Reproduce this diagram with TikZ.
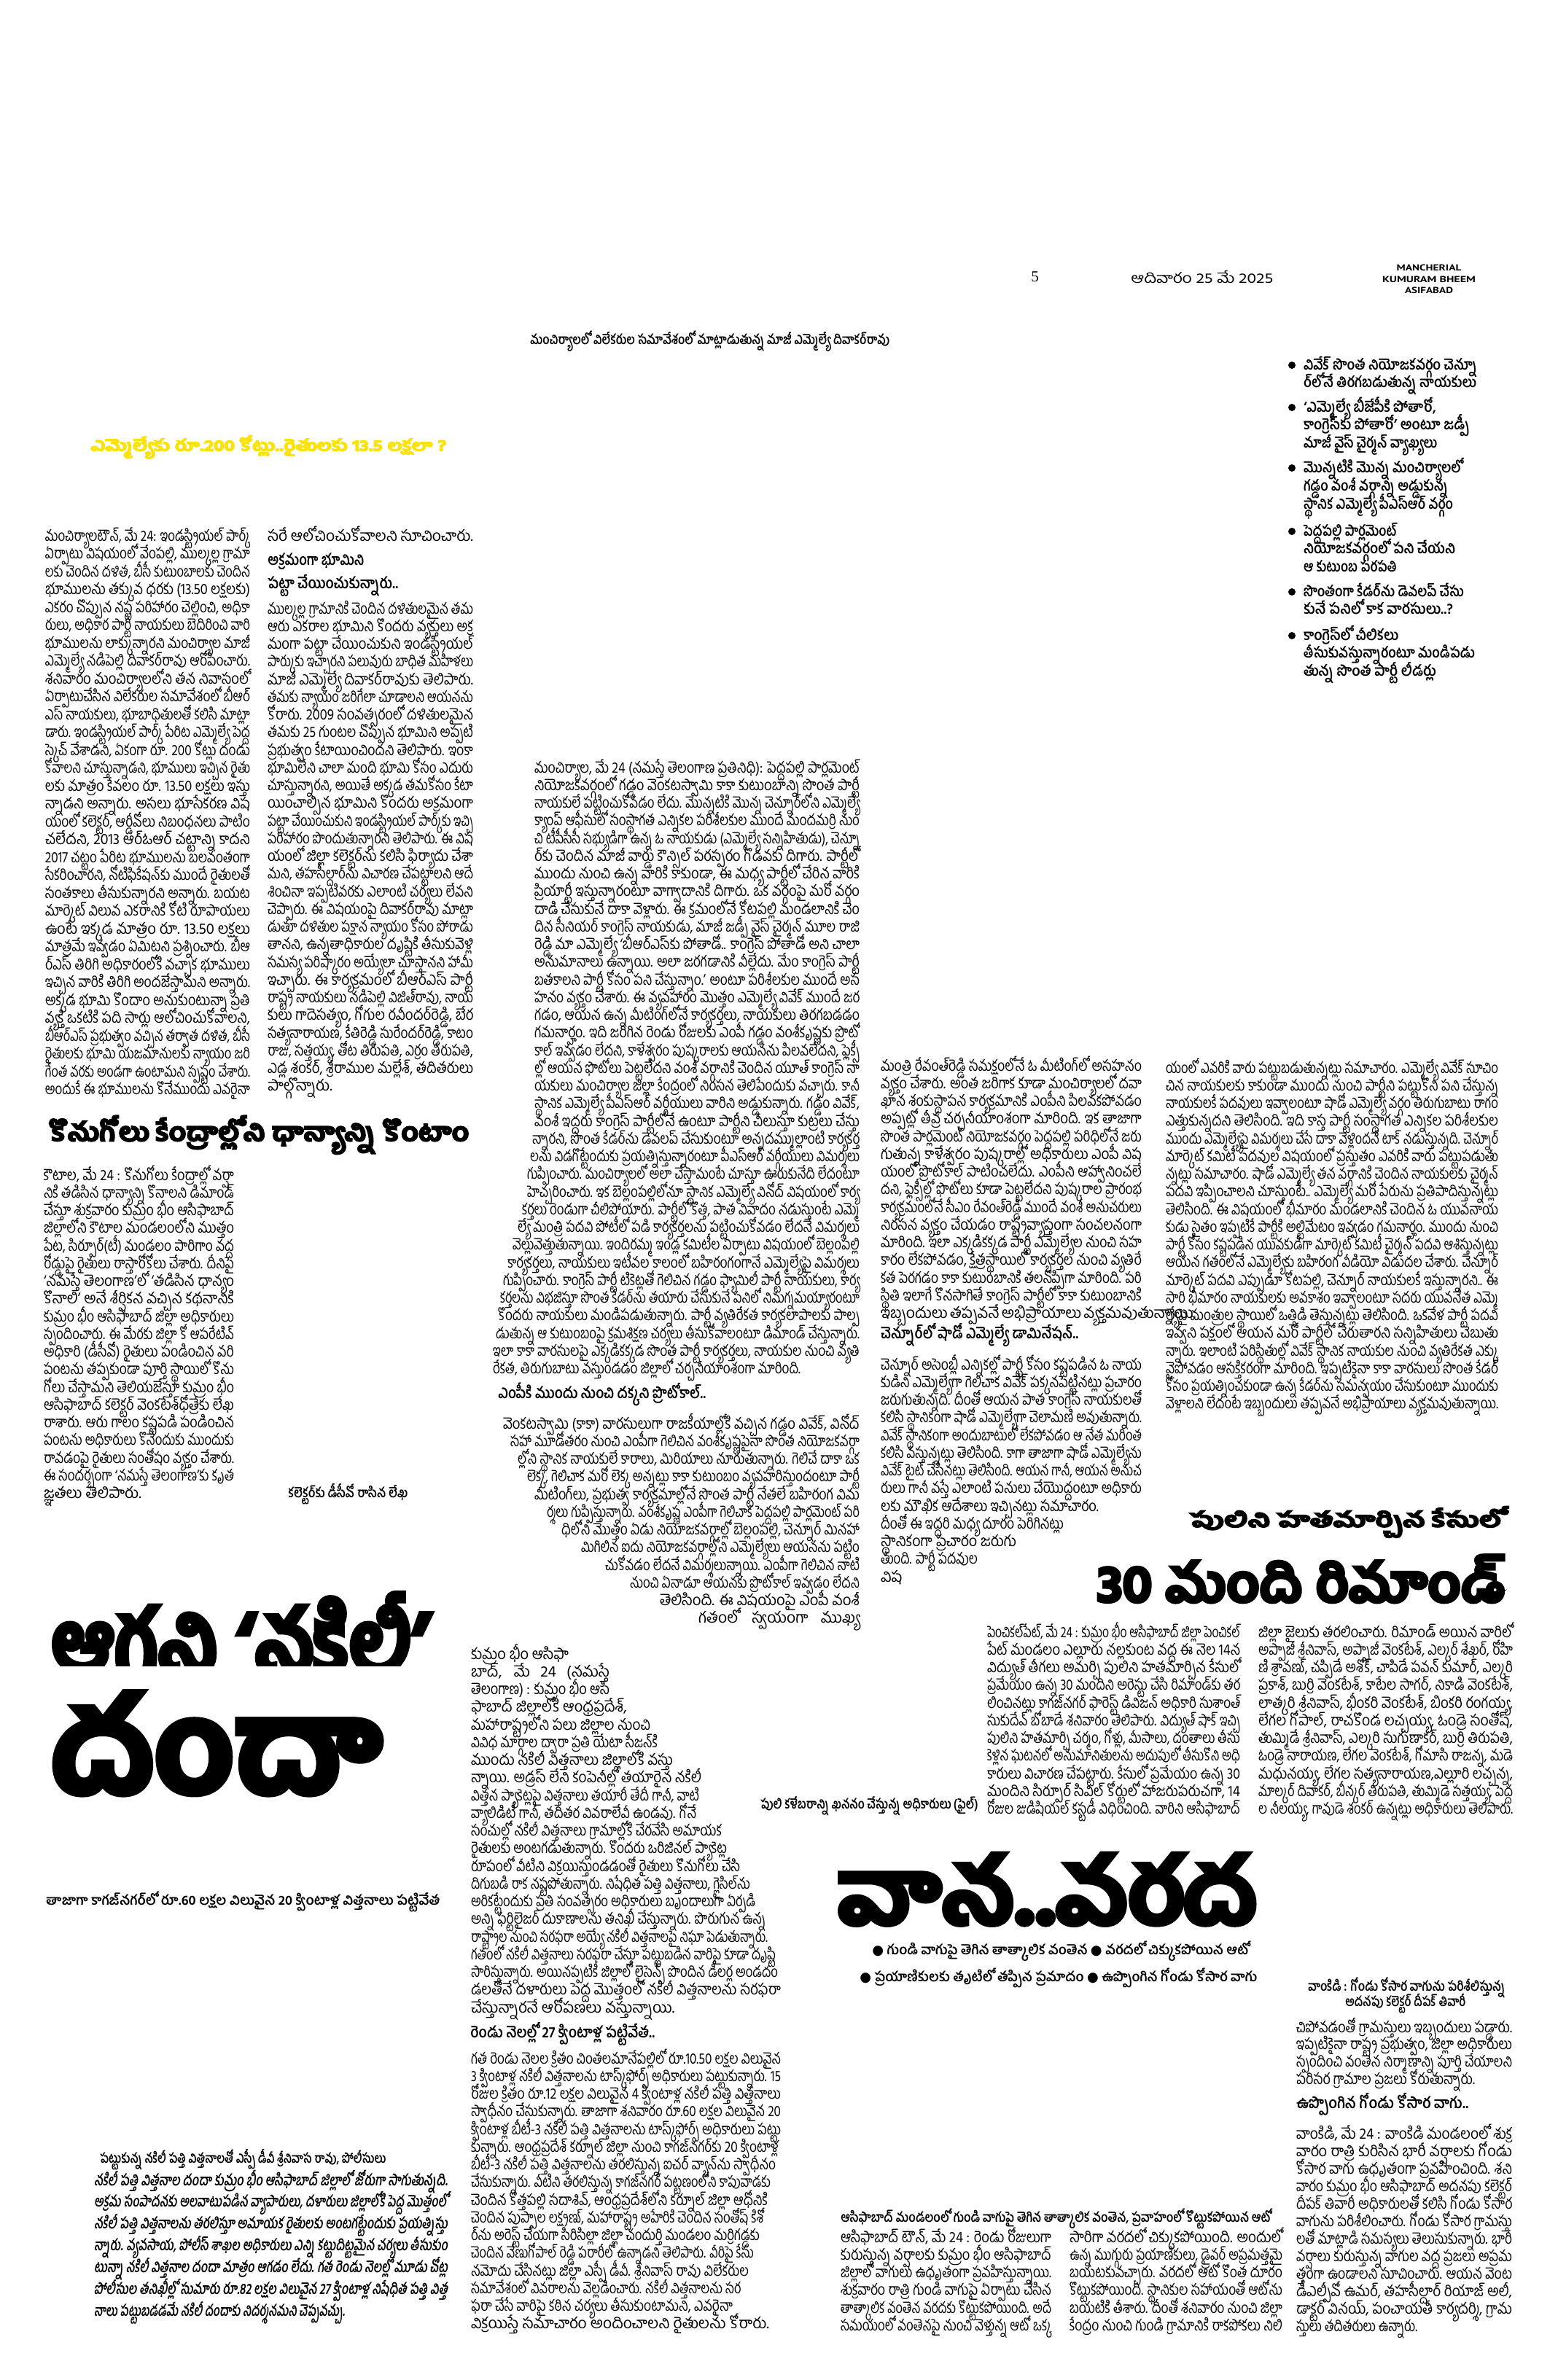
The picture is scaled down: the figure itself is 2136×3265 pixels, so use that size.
\documentclass[tikz,border=0pt]{standalone}
\usepackage{fontspec}
\usepackage{graphicx}
\setmainfont{Hind Guntur}[Script=Telugu]
\newfontfamily\heavyfont{Hind Guntur}[Script=Telugu,FakeBold=6]
\newfontfamily\slantfont{Hind Guntur}[Script=Telugu,FakeSlant=0.2]
\newfontfamily\latinfont{PT Sans}
\newfontfamily\digitfont{Liberation Serif}
\newfontfamily\symfont{DejaVu Sans}
\definecolor{headyellow}{RGB}{250,226,10}
\newsavebox\lnbox
\newlength\fitwd
\newcommand\fitline[2]{\setlength\fitwd{#1}\sbox\lnbox{#2}%
  \ifdim\wd\lnbox>\fitwd\resizebox{\fitwd}{\height}{\usebox\lnbox}%
  \else\hbox to\fitwd{\unhcopy\lnbox}\fi}
\newcommand\seg[3]{\hbox to\linewidth{\hskip#1\relax\fitline{#2}{#3}\hfil}}
\newcommand\jl[1]{\seg{0pt}{\linewidth}{#1}}
\newcommand\ji[2]{\seg{#1}{\dimexpr\linewidth-#1\relax}{#2}}
\newcommand\jr[1]{\hbox to\linewidth{#1\hfil}}
\newcommand\tw[2]{\resizebox{#1}{\height}{#2}}
\newcommand\fw[2]{\resizebox{#1}{!}{#2}}
\newcommand\bx[3]{\resizebox*{#1}{#2}{#3}}
\newenvironment{txtcol}[3]{\begin{minipage}[t]{#1}\fontsize{#2}{#3}\selectfont\lineskiplimit=-100pt\relax}{\end{minipage}}
\begin{document}
\begin{tikzpicture}[x=0.2mm,y=-0.2mm,
    colnode/.style={anchor=base west,inner sep=0pt,outer sep=0pt},
    capnode/.style={anchor=west,inner sep=0pt,font=\bfseries\fontsize{10.5pt}{12pt}\selectfont},
    subnode/.style={anchor=west,inner sep=0pt,font=\bfseries\fontsize{12pt}{14pt}\selectfont},
    headnode/.style={anchor=north west,inner sep=0pt,font=\heavyfont\bfseries\fontsize{30pt}{36pt}\selectfont},
    dotnode/.style={circle,fill=black,inner sep=0pt,minimum size=2mm}
    ]
\fill[white] (0,0) rectangle (2136,3265);
\useasboundingbox (0,0) rectangle (2136,3265);
\node[anchor=west,inner sep=0pt,font=\digitfont\fontsize{12pt}{14pt}\selectfont] (page) at (1414,380) {5};
\node[anchor=west,inner sep=0pt,font=\fontsize{11pt}{13pt}\selectfont] (date) at (1551,380) {\tw{39mm}{ఆదివారం 25 మే 2025}};
\node[inner sep=0pt,font=\latinfont\bfseries\fontsize{6.8pt}{8pt}\selectfont] (distA) at (1960,367) {\tw{17.8mm}{MANCHERIAL}};
\node[inner sep=0pt,font=\latinfont\bfseries\fontsize{6.8pt}{8pt}\selectfont] (distB) at (1960,383) {\tw{25.6mm}{KUMURAM BHEEM}};
\node[inner sep=0pt,font=\latinfont\bfseries\fontsize{6.8pt}{8pt}\selectfont] (distC) at (1960,398) {\tw{13.2mm}{ASIFABAD}};
\node[capnode] (capDiwakar) at (727,468) {\tw{98.6mm}{మంచిర్యాలలో విలేకరుల సమావేశంలో మాట్లాడుతున్న మాజీ ఎమ్మెల్యే దివాకర్‌రావు}};
\node[dotnode] (dotA) at (1772,501) {};
\node[dotnode] (dotB) at (1772,559) {};
\node[dotnode] (dotC) at (1772,642) {};
\node[dotnode] (dotD) at (1772,729) {};
\node[dotnode] (dotE) at (1772,812) {};
\node[dotnode] (dotF) at (1772,872) {};
\node[colnode,font=\bfseries] (bulA) at (1788,507) {\begin{txtcol}{52mm}{11.5pt}{14.2pt}
\seg{0pt}{47.6mm}{వివేక్ సొంత నియోజకవర్గం చెన్నూ}
\seg{0pt}{47.4mm}{ర్‌లోనే తిరగబడుతున్న నాయకులు}
\end{txtcol}};
\node[colnode,font=\bfseries] (bulB) at (1788,565) {\begin{txtcol}{52mm}{11.5pt}{14.2pt}
\seg{0pt}{36.4mm}{‘ఎమ్మెల్యే బీజేపీకి పోతారో,}
\seg{0pt}{45.4mm}{కాంగ్రెస్‌కు పోతారో’ అంటూ జడ్పీ}
\seg{0pt}{36.6mm}{మాజీ వైస్ చైర్మన్ వ్యాఖ్యలు}
\end{txtcol}};
\node[colnode,font=\bfseries] (bulC) at (1788,648) {\begin{txtcol}{52mm}{11.5pt}{14.5pt}
\seg{0pt}{43.6mm}{మొన్నటికి మొన్న మంచిర్యాలలో}
\seg{0pt}{39.6mm}{గడ్డం వంశీ వర్గాన్ని అడ్డుకున్న}
\seg{0pt}{41mm}{స్థానిక ఎమ్మెల్యే పీఎస్ఆర్ వర్గం}
\end{txtcol}};
\node[colnode,font=\bfseries] (bulD) at (1788,735) {\begin{txtcol}{52mm}{11.5pt}{14.2pt}
\seg{0pt}{25.6mm}{పెద్దపల్లి పార్లమెంట్}
\seg{0pt}{41.6mm}{నియోజకవర్గంలో పని చేయని}
\seg{0pt}{25.6mm}{ఆ కుటుంబ పరపతి}
\end{txtcol}};
\node[colnode,font=\bfseries] (bulE) at (1788,818) {\begin{txtcol}{52mm}{11.5pt}{14.2pt}
\seg{0pt}{44mm}{సొంతంగా కేడర్‌ను డెవలప్ చేసు}
\seg{0pt}{41mm}{కునే పనిలో కాక వారసులు..?}
\end{txtcol}};
\node[colnode,font=\bfseries] (bulF) at (1788,878) {\begin{txtcol}{52mm}{11.5pt}{14.2pt}
\seg{0pt}{26mm}{కాంగ్రెస్‌లో చీలికలు}
\seg{0pt}{47mm}{తీసుకువస్తున్నారంటూ మండిపడు}
\seg{0pt}{36.4mm}{తున్న సొంత పార్టీ లీడర్లు}
\end{txtcol}};
\node[headnode,text=headyellow] (yellowHead) at (124,597) {\bx{97.6mm}{6.4mm}{ఎమ్మెల్యేకు రూ.200 కోట్లు..రైతులకు 13.5 లక్షలా ?}};
\node[colnode] (colDivA) at (62,742) {\begin{txtcol}{56.2mm}{12pt}{13.95pt}
\jl{మంచిర్యాలటౌన్, మే 24: ఇండస్ట్రియల్ పార్క్}
\jl{ఏర్పాటు విషయంలో వేంపల్లి, ముల్కల్ల గ్రామా}
\jl{లకు చెందిన దళిత, బీసీ కుటుంబాలకు చెందిన}
\jl{భూములను తక్కువ ధరకు (13.50 లక్షలకు)}
\jl{ఎకరం చొప్పున నష్ట పరిహారం చెల్లించి, అధికా}
\jl{రులు, అధికార పార్టీ నాయకులు బెదిరించి వారి}
\jl{భూములను లాక్కున్నారని మంచిర్యాల మాజీ}
\jl{ఎమ్మెల్యే నడిపెల్లి దివాకర్‌రావు ఆరోపించారు.}
\jl{శనివారం మంచిర్యాలలోని తన నివాసంలో}
\jl{ఏర్పాటుచేసిన విలేకరుల సమావేశంలో బీఆర్}
\jl{ఎస్ నాయకులు, భూబాధితులతో కలిసి మాట్లా}
\jl{డారు. ఇండస్ట్రియల్ పార్క్ పేరిట ఎమ్మెల్యే పెద్ద}
\jl{స్కెచ్ వేశాడని, ఏకంగా రూ. 200 కోట్లు దండు}
\jl{కోవాలని చూస్తున్నాడని, భూములు ఇచ్చిన రైతు}
\jl{లకు మాత్రం కేవలం రూ. 13.50 లక్షలు ఇస్తు}
\jl{న్నాడని అన్నారు. అసలు భూసేకరణ విష}
\jl{యంలో కలెక్టర్, ఆర్డీవోలు నిబంధనలు పాటిం}
\jl{చలేదని, 2013 ఆర్ఓఆర్ చట్టాన్ని కాదని}
\jl{2017 చట్టం పేరిట భూములను బలవంతంగా}
\jl{సేకరించారని, నోటిఫికేషన్‌కు ముందే రైతులతో}
\jl{సంతకాలు తీసుకున్నారని అన్నారు. బయట}
\jl{మార్కెట్ విలువ ఎకరానికి కోటి రూపాయలు}
\jl{ఉంటే ఇక్కడ మాత్రం రూ. 13.50 లక్షలు}
\jl{మాత్రమే ఇవ్వడం ఏమిటని ప్రశ్నించారు. బీఆ}
\jl{ర్ఎస్ తిరిగి అధికారంలోకి వచ్చాక భూములు}
\jl{ఇచ్చిన వారికి తిరిగి అందజేస్తామని అన్నారు.}
\jl{అక్కడ భూమి కొందాం అనుకుంటున్నా ప్రతి}
\jl{వ్యక్తి ఒకటికి పది సార్లు ఆలోచించుకోవాలని,}
\jl{బీఆర్ఎస్ ప్రభుత్వం వచ్చిన తర్వాత దళిత, బీసీ}
\jl{రైతులకు భూమి యజమానులకు న్యాయం జరి}
\jl{గేంత వరకు అండగా ఉంటామని స్పష్టం చేశారు.}
\jl{అందుకే ఈ భూములను కొనేముందు ఎవరైనా}
\end{txtcol}};
\node[colnode] (colDivB) at (367,742) {\begin{txtcol}{56.4mm}{12pt}{13.8pt}
\jr{సరే ఆలోచించుకోవాలని సూచించారు.}
\end{txtcol}};
\node[subnode] (subLandA) at (367,770) {\tw{26.4mm}{అక్రమంగా భూమిని}};
\node[subnode] (subLandB) at (367,803) {\tw{35.8mm}{పట్టా చేయించుకున్నారు..}};
\node[colnode] (colDivC) at (367,842) {\begin{txtcol}{56.4mm}{12pt}{13.8pt}
\jl{ముల్కల్ల గ్రామానికి చెందిన దళితులమైన తమ}
\jl{ఆరు ఎకరాల భూమిని కొందరు వ్యక్తులు అక్ర}
\jl{మంగా పట్టా చేయించుకుని ఇండస్ట్రియల్}
\jl{పార్కుకు ఇచ్చారని పలువురు బాధిత మహిళలు}
\jl{మాజీ ఎమ్మెల్యే దివాకర్‌రావుకు తెలిపారు.}
\jl{తమకు న్యాయం జరిగేలా చూడాలని ఆయనను}
\jl{కోరారు. 2009 సంవత్సరంలో దళితులమైన}
\jl{తమకు 25 గుంటల చొప్పున భూమిని అప్పటి}
\jl{ప్రభుత్వం కేటాయించిందని తెలిపారు. ఇంకా}
\jl{భూమిలేని చాలా మంది భూమి కోసం ఎదురు}
\jl{చూస్తున్నారని, అయితే అక్కడ తమకోసం కేటా}
\jl{యించాల్సిన భూమిని కొందరు అక్రమంగా}
\jl{పట్టా చేయించుకుని ఇండస్ట్రియల్ పార్క్‌కు ఇచ్చి}
\jl{పరిహారం పొందుతున్నారని తెలిపారు. ఈ విష}
\jl{యంలో జిల్లా కలెక్టర్‌ను కలిసి ఫిర్యాదు చేశా}
\jl{మని, తహసీల్దార్‌ను విచారణ చేపట్టాలని ఆదే}
\jl{శించినా ఇప్పటివరకు ఎలాంటి చర్యలు లేవని}
\jl{చెప్పారు. ఈ విషయంపై దివాకర్‌రావు మాట్లా}
\jl{డుతూ దళితుల పక్షాన న్యాయం కోసం పోరాడు}
\jl{తానని, ఉన్నతాధికారుల దృష్టికి తీసుకువెళ్లి}
\jl{సమస్య పరిష్కారం అయ్యేలా చూస్తానని హామీ}
\jl{ఇచ్చారు. ఈ కార్యక్రమంలో బీఆర్ఎస్ పార్టీ}
\jl{రాష్ట్ర నాయకులు నడిపెల్లి విజిత్‌రావు, నాయ}
\jl{కులు గాదెసత్యం, గోగుల రవీందర్‌రెడ్డి, బేర}
\jl{సత్యనారాయణ, కేతిరెడ్డి సురేందర్‌రెడ్డి, కాటం}
\jl{రాజు, సత్తయ్య, తోట తిరుపతి, ఎర్రం తిరుపతి,}
\jl{ఎడ్ల శంకర్, శ్రీరాముల మల్లేశ్, తదితరులు}
\jr{పాల్గొన్నారు.}
\end{txtcol}};
\node[colnode] (colPedA) at (676,1060) {\begin{txtcol}{100.6mm}{12pt}{13.8pt}
\ji{11.4mm}{మంచిర్యాల, మే 24 (నమస్తే తెలంగాణ ప్రతినిధి): పెద్దపల్లి పార్లమెంట్}
\ji{11.4mm}{నియోజకవర్గంలో గడ్డం వెంకటస్వామి కాకా కుటుంబాన్ని సొంత పార్టీ}
\ji{11.4mm}{నాయకులే పట్టించుకోవడం లేదు. మొన్నటికి మొన్న చెన్నూర్‌లోని ఎమ్మెల్యే}
\ji{11.4mm}{క్యాంప్ ఆఫీసులో సంస్థాగత ఎన్నికల పరిశీలకుల ముందే మందమర్రి నుం}
\ji{11.4mm}{చి టీపీసీసీ సభ్యుడిగా ఉన్న ఓ నాయకుడు (ఎమ్మెల్యే సన్నిహితుడు), చెన్నూ}
\ji{11.4mm}{ర్‌కు చెందిన మాజీ వార్డు కౌన్సిల్ పరస్పరం గొడవకు దిగారు. పార్టీలో}
\ji{11.4mm}{ముందు నుంచి ఉన్న వారికి కాకుండా, ఈ మధ్య పార్టీలో చేరిన వారికి}
\ji{11.4mm}{ప్రియార్టీ ఇస్తున్నారంటూ వాగ్వాదానికి దిగారు. ఒక వర్గంపై మరో వర్గం}
\ji{11.4mm}{దాడి చేసుకునే దాకా వెళ్లారు. ఈ క్రమంలోనే కోటపల్లి మండలానికి చెం}
\ji{11.4mm}{దిన సీనియర్ కాంగ్రెస్ నాయకుడు, మాజీ జడ్పీ వైస్ చైర్మన్ మూల రాజి}
\ji{11.4mm}{రెడ్డి మా ఎమ్మెల్యే ‘బీఆర్ఎస్‌కు పోతాడో.. కాంగ్రెస్ పోతాడో అని చాలా}
\ji{11.4mm}{అనుమానాలు ఉన్నాయి. అలా జరగడానికి వీల్లేదు. మేం కాంగ్రెస్ పార్టీ}
\ji{11.4mm}{బతకాలని పార్టీ కోసం పని చేస్తున్నాం.’ అంటూ పరిశీలకుల ముందే అస}
\ji{11.4mm}{హనం వ్యక్తం చేశారు. ఈ వ్యవహారం మొత్తం ఎమ్మెల్యే వివేక్ ముందే జర}
\ji{11.4mm}{గడం, ఆయన ఉన్న మీటింగ్‌లోనే కార్యకర్తలు, నాయకులు తిరగబడడం}
\ji{11.4mm}{గమనార్హం. ఇది జరిగిన రెండు రోజులకు ఎంపీ గడ్డం వంశీకృష్ణకు ప్రొటో}
\ji{11.4mm}{కాల్ ఇవ్వడం లేదని, కాళేశ్వరం పుష్కరాలకు ఆయనను పిలవలేదని, ఫ్లెక్సీ}
\ji{11.4mm}{ల్లో ఆయన ఫొటోలు పెట్టలేదని వంశీ వర్గానికి చెందిన యూత్ కాంగ్రెస్ నా}
\ji{11.4mm}{యకులు మంచిర్యాల జిల్లా కేంద్రంలో నిరసన తెలిపేందుకు వచ్చారు. కానీ}
\ji{11.4mm}{స్థానిక ఎమ్మెల్యే పీఎస్ఆర్ వర్గీయులు వారిని అడ్డుకున్నారు. గడ్డం వివేక్,}
\ji{11.4mm}{వంశీ ఇద్దరు కాంగ్రెస్ పార్టీలోనే ఉంటూ పార్టీని చీలుస్తూ కుట్రలు చేస్తు}
\ji{10.8mm}{న్నారని, సొంత కేడర్‌ను డెవలప్ చేసుకుంటూ అన్నదమ్ముల్లాంటి కార్యకర్త}
\ji{10.2mm}{లను విడగొట్టేందుకు ప్రయత్నిస్తున్నారంటూ పీఎస్ఆర్ వర్గీయులు విమర్శలు}
\ji{9.4mm}{గుప్పించారు. మంచిర్యాలలో అలా చేస్తామంటే చూస్తూ ఊరుకునేది లేదంటూ}
\ji{9.4mm}{హెచ్చరించారు. ఇక బెల్లంపల్లిలోనూ స్థానిక ఎమ్మెల్యే వినోద్ విషయంలో కార్య}
\ji{8mm}{కర్తలు రెండుగా చీలిపోయారు. పార్టీలో కొత్త, పాత వివాదం నడుస్తుంటే ఎమ్మె}
\ji{6.8mm}{ల్యే మంత్రి పదవి పోటీలో పడి కార్యకర్తలను పట్టించుకోవడం లేదనే విమర్శలు}
\ji{5.4mm}{వెల్లువెత్తుతున్నాయి. ఇందిరమ్మ ఇండ్ల కమిటీల ఏర్పాటు విషయంలో బెల్లంపల్లి}
\ji{4mm}{కార్యకర్తలు, నాయకులు ఇటీవల కాలంలో బహిరంగంగానే ఎమ్మెల్యేపై విమర్శలు}
\ji{2.8mm}{గుప్పించారు. కాంగ్రెస్ పార్టీ టికెట్లతో గెలిచిన గడ్డం ఫ్యామిలీ పార్టీ నాయకులు, కార్య}
\ji{2mm}{కర్తలను విభజిస్తూ సొంత కేడర్‌ను తయారు చేసుకునే పనిలో నిమగ్నమయ్యారంటూ}
\ji{1.4mm}{కొందరు నాయకులు మండిపడుతున్నారు. పార్టీ వ్యతిరేకత కార్యకలాపాలకు పాల్ప}
\ji{0.8mm}{డుతున్న ఆ కుటుంబంపై క్రమశిక్షణ చర్యలు తీసుకోవాలంటూ డిమాండ్ చేస్తున్నారు.}
\jl{ఇలా కాకా వారసులపై ఎక్కడికక్కడ సొంత పార్టీ కార్యకర్తలు, నాయకుల నుంచి వ్యతి}
\seg{0pt}{84.4mm}{రేకత, తిరుగుబాటు వస్తుండడం జిల్లాలో చర్చనీయాంశంగా మారింది.}
\end{txtcol}};
\node[subnode] (subProtocol) at (683,1913) {\tw{57mm}{ఎంపీకి ముందు నుంచి దక్కని ప్రొటోకాల్..}};
\node[colnode] (colPedB) at (676,1960) {\begin{txtcol}{100.6mm}{12pt}{13.8pt}
\ji{2.8mm}{వెంకటస్వామి (కాకా) వారసులుగా రాజకీయాల్లోకి వచ్చిన గడ్డం వివేక్, వినోద్}
\ji{4.8mm}{సహా మూడోతరం నుంచి ఎంపీగా గెలిచిన వంశీకృష్ణపైనా సొంత నియోజకవర్గా}
\ji{6.8mm}{ల్లోని స్థానిక నాయకులే కారాలు, మిరియాలు నూరుతున్నారు. గెలిచే దాకా ఒక}
\ji{9.4mm}{లెక్క, గెలిచాక మరో లెక్క అన్నట్లు కాకా కుటుంబం వ్యవహరిస్తుందంటూ పార్టీ}
\ji{11.4mm}{మీటింగ్‌లు, ప్రభుత్వ కార్యక్రమాల్లోనే సొంత పార్టీ నేతలే బహిరంగ విమ}
\ji{14.8mm}{ర్శలు గుప్పిస్తున్నారు. వంశీకృష్ణ ఎంపీగా గెలిచాక పెద్దపల్లి పార్లమెంట్ పరి}
\ji{18.8mm}{ధిలోని మొత్తం ఏడు నియోజకవర్గాల్లో బెల్లంపల్లి, చెన్నూర్ మినహా}
\ji{24.2mm}{మిగిలిన ఐదు నియోజకవర్గాల్లోని ఎమ్మెల్యేలు ఆయనను పట్టిం}
\ji{30.8mm}{చుకోవడం లేదనే విమర్శలున్నాయి. ఎంపీగా గెలిచిన నాటి}
\ji{37.6mm}{నుంచి ఏనాడూ ఆయనకు ప్రొటోకాల్ ఇవ్వడం లేదని}
\ji{45.8mm}{తెలిసింది. ఈ విషయంపై ఎంపీ వంశీ}
\ji{56.4mm}{గతంలో స్వయంగా ముఖ్య}
\end{txtcol}};
\node[colnode] (colChenA) at (1208,1469) {\begin{txtcol}{71.6mm}{12pt}{13.8pt}
\jl{మంత్రి రేవంత్‌రెడ్డి సమక్షంలోనే ఓ మీటింగ్‌లో అసహనం}
\jl{వ్యక్తం చేశారు. అంత జరిగాక కూడా మంచిర్యాలలో దవా}
\jl{ఖాన శంకుస్థాపన కార్యక్రమానికి ఎంపీని పిలవకపోవడం}
\jl{అప్పట్లో తీవ్ర చర్చనీయాంశంగా మారింది. ఇక తాజాగా}
\jl{సొంత పార్లమెంట్ నియోజకవర్గం పెద్దపల్లి పరిధిలోనే జరు}
\jl{గుతున్న కాళేశ్వరం పుష్కరాల్లో అధికారులు ఎంపీ విష}
\jl{యంలో ప్రొటోకాల్ పాటించలేదు. ఎంపీని ఆహ్వానించలే}
\jl{దని, ఫ్లెక్సీల్లో ఫొటోలు కూడా పెట్టలేదని పుష్కరాల ప్రారంభ}
\jl{కార్యక్రమంలోనే సీఎం రేవంత్‌రెడ్డి ముందే వంశీ అనుచరులు}
\jl{నిరసన వ్యక్తం చేయడం రాష్ట్రవ్యాప్తంగా సంచలనంగా}
\jl{మారింది. ఇలా ఎక్కడికక్కడ పార్టీ ఎమ్మెల్యేల నుంచి సహ}
\jl{కారం లేకపోవడం, క్షేత్రస్థాయిలో కార్యకర్తల నుంచి వ్యతిరే}
\jl{కత పెరగడం కాకా కుటుంబానికి తలనొప్పిగా మారింది. పరి}
\jl{స్థితి ఇలాగే కొనసాగితే కాంగ్రెస్ పార్టీలో కాకా కుటుంబానికి}
\jr{ఇబ్బందులు తప్పవనే అభిప్రాయాలు వ్యక్తమవుతున్నాయి.}
\end{txtcol}};
\node[subnode] (subChennur) at (1208,1831) {\tw{54.2mm}{చెన్నూర్‌లో షాడో ఎమ్మెల్యే డామినేషన్..}};
\node[colnode] (colChenB) at (1208,1879) {\begin{txtcol}{71.6mm}{12pt}{13.8pt}
\jl{చెన్నూర్ అసెంబ్లీ ఎన్నికల్లో పార్టీ కోసం కష్టపడిన ఓ నాయ}
\jl{కుడిని ఎమ్మెల్యేగా గెలిచాక వివేక్ పక్కనపెట్టినట్లు ప్రచారం}
\jl{జరుగుతున్నది. దీంతో ఆయన పాత కాంగ్రెస్ నాయకులతో}
\jl{కలిసి స్థానికంగా షాడో ఎమ్మెల్యేగా చెలామణి అవుతున్నారు.}
\jl{వివేక్ స్థానికంగా అందుబాటులో లేకపోవడం ఆ నేత మరింత}
\jl{కలిసి వస్తున్నట్లు తెలిసింది. కాగా తాజాగా షాడో ఎమ్మెల్యేను}
\jl{వివేక్ టైట్ చేసినట్లు తెలిసింది. ఆయన గానీ, ఆయన అనుచ}
\jl{రులు గానీ వస్తే ఎలాంటి పనులు చేయొద్దంటూ అధికారు}
\seg{0pt}{59.8mm}{లకు మౌఖిక ఆదేశాలు ఇచ్చినట్లు సమాచారం.}
\seg{0pt}{50.2mm}{దీంతో ఈ ఇద్దరి మధ్య దూరం పెరిగినట్లు}
\seg{0pt}{37.2mm}{స్థానికంగా ప్రచారం జరుగు}
\seg{0pt}{26.6mm}{తుంది. పార్టీ పదవుల}
\jr{విష}
\end{txtcol}};
\node[colnode] (colChenC) at (1599,1472) {\begin{txtcol}{91.2mm}{12pt}{13.8pt}
\jl{యంలో ఎవరికి వారు పట్టుబడుతున్నట్లు సమాచారం. ఎమ్మెల్యే వివేక్ సూచిం}
\jl{చిన నాయకులకు కాకుండా ముందు నుంచి పార్టీని పట్టుకొని పని చేస్తున్న}
\jl{నాయకులకే పదవులు ఇవ్వాలంటూ షాడో ఎమ్మెల్యే వర్గం తిరుగుబాటు రాగం}
\jl{ఎత్తుకున్నదని తెలిసింది. ఇది కాస్త పార్టీ సంస్థాగత ఎన్నికల పరిశీలకుల}
\jl{ముందు ఎమ్మెల్యేపై విమర్శలు చేసే దాకా వెళ్లిందనే టాక్ నడుస్తున్నది. చెన్నూర్}
\jl{మార్కెట్ కమిటీ పదవుల విషయంలో ప్రస్తుతం ఎవరికి వారు పట్టుపడుతు}
\jl{న్నట్లు సమాచారం. షాడో ఎమ్మెల్యే తన వర్గానికి చెందిన నాయకులకు చైర్మన్}
\jl{పదవి ఇప్పించాలని చూస్తుంటే.. ఎమ్మెల్యే మరో పేరును ప్రతిపాదిస్తున్నట్లు}
\jl{తెలిసింది. ఈ విషయంలో భీమారం మండలానికి చెందిన ఓ యువనాయ}
\jl{కుడు సైతం ఇప్పటికే పార్టీకి అల్టిమేటం ఇవ్వడం గమనార్హం. ముందు నుంచి}
\jl{పార్టీ కోసం కష్టపడిన యువకుడిగా మార్కెట్ కమిటీ చైర్మన్ పదవి ఆశిస్తున్నట్లు}
\jl{ఆయన గతంలోనే ఎమ్మెల్యేకు బహిరంగ వీడియో విడుదల చేశారు. చెన్నూర్}
\jl{మార్కెట్ పదవి ఎప్పుడూ కోటపల్లి, చెన్నూర్ నాయకులకే ఇస్తున్నారని.. ఈ}
\jl{సారి భీమారం నాయకులకు అవకాశం ఇవ్వాలంటూ సదరు యువనేత ఎమ్మె}
\jl{ల్యేపై మంత్రుల స్థాయిలో ఒత్తిడి తెస్తున్నట్లు తెలిసింది. ఒకవేళ పార్టీ పదవి}
\jl{ఇవ్వని పక్షంలో ఆయన మరో పార్టీలో చేరుతారని సన్నిహితులు చెబుతు}
\jl{న్నారు. ఇలాంటి పరిస్థితుల్లో వివేక్ స్థానిక నాయకుల నుంచి వ్యతిరేకత ఎక్కు}
\jl{వైపోవడం ఆసక్తికరంగా మారింది. ఇప్పటికైనా కాకా వారసులు సొంత కేడర్}
\jl{కోసం ప్రయత్నించకుండా ఉన్న కేడర్‌ను సమన్వయం చేసుకుంటూ ముందుకు}
\jl{వెళ్లాలని లేదంటే ఇబ్బందులు తప్పవనే అభిప్రాయాలు వ్యక్తమవుతున్నాయి.}
\end{txtcol}};
\node[headnode] (kotalaHead) at (67,1530) {\bx{115.2mm}{10.6mm}{కొనుగోలు కేంద్రాల్లోని ధాన్యాన్ని కొంటాం}};
\node[colnode] (colKotala) at (60,1619) {\begin{txtcol}{52.2mm}{12pt}{13.8pt}
\jl{కౌటాల, మే 24 : కొనుగోలు కేంద్రాల్లో వర్షా}
\jl{నికి తడిసిన ధాన్యాన్ని కొనాలని డిమాండ్}
\jl{చేస్తూ శుక్రవారం కుమ్రం భీం ఆసిఫాబాద్}
\jl{జిల్లాలోని కౌటాల మండలంలోని ముత్తం}
\jl{పేట, సిర్పూర్(టీ) మండలం పారిగాం వద్ద}
\jl{రోడ్డుపై రైతులు రాస్తారోకోలు చేశారు. దీనిపై}
\jl{‘నమస్తే తెలంగాణ’లో ‘తడిసిన ధాన్యం}
\jl{కొనాలి’ అనే శీర్షికన వచ్చిన కథనానికి}
\jl{కుమ్రం భీం ఆసిఫాబాద్ జిల్లా అధికారులు}
\jl{స్పందించారు. ఈ మేరకు జిల్లా కో ఆపరేటివ్}
\jl{అధికారి (డీసీవో) రైతులు పండించిన వరి}
\jl{పంటను తప్పకుండా పూర్తి స్థాయిలో కొను}
\jl{గోలు చేస్తామని తెలియజేస్తూ కుమ్రం భీం}
\jl{ఆసిఫాబాద్ కలెక్టర్ వెంకటేశ్‌ధోత్రేకు లేఖ}
\jl{రాశారు. ఆరు గాలం కష్టపడి పండించిన}
\jl{పంటను అధికారులు కొనేందుకు ముందుకు}
\jl{రావడంపై రైతులు సంతోషం వ్యక్తం చేశారు.}
\jl{ఈ సందర్భంగా ‘నమస్తే తెలంగాణ’కు కృత}
\jr{జ్ఞతలు తెలిపారు.}
\end{txtcol}};
\node[capnode] (capLetter) at (395,2050) {\tw{32.8mm}{కలెక్టర్‌కు డీసీవో రాసిన లేఖ}};
\node[headnode] (puliHead) at (1632,2066) {\bx{86.4mm}{8.6mm}{పులిని హతమార్చిన కేసులో}};
\node[headnode] (remandHead) at (1504,2133) {\bx{112mm}{13mm}{30 మంది రిమాండ్}};
\begin{scope}
\clip (0,2150) rectangle (700,2285);
\node[headnode] (aganiHead) at (70,2185) {\bx{103.8mm}{22mm}{ఆగని ‘నకిలీ’}};
\end{scope}
\node[headnode] (dandaHead) at (70,2322) {\bx{90.6mm}{27.6mm}{దందా}};
\node[colnode] (colPuliA) at (1354,2246) {\begin{txtcol}{69.4mm}{12pt}{13.8pt}
\jl{పెంచికల్‌పేట్, మే 24 : కుమ్రం భీం ఆసిఫాబాద్ జిల్లా పెంచికల్}
\jl{పేట్ మండలం ఎల్లూరు నల్లకుంట వద్ద ఈ నెల 14న}
\jl{విద్యుత్ తీగలు అమర్చి పులిని హతమార్చిన కేసులో}
\jl{ప్రమేయం ఉన్న 30 మందిని అరెస్టు చేసి రిమాండ్‌కు తర}
\jl{లించినట్లు కాగజ్‌నగర్ ఫారెస్ట్ డివిజన్ అధికారి సుశాంత్}
\jl{సుకుదేవ్ బోబాడే శనివారం తెలిపారు. విద్యుత్ షాక్ ఇచ్చి}
\jl{పులిని హతమార్చి చర్మం, గోళ్లు, మీసాలు, దంతాలు తీసు}
\jl{కెళ్లిన ఘటనలో అనుమానితులను అదుపులో తీసుకొని అధి}
\jl{కారులు విచారణ చేపట్టారు. కేసులో ప్రమేయం ఉన్న 30}
\jl{మందిని సిర్పూర్ సివిల్ కోర్టులో హాజరుపరుచగా, 14}
\jl{రోజుల జుడిషియల్ కస్టడీ విధించింది. వారిని ఆసిఫాబాద్}
\end{txtcol}};
\node[colnode] (colPuliB) at (1726,2246) {\begin{txtcol}{69.8mm}{12pt}{13.8pt}
\jl{జిల్లా జైలుకు తరలించారు. రిమాండ్ అయిన వారిలో}
\jl{అప్పాజీ శ్రీనివాస్, అప్పాజీ వెంకటేశ్, ఎల్కర్ శేఖర్, రోహి}
\jl{ణి శ్రావణ్, చప్పిడే అశోక్, చాపిడే పవన్ కుమార్, ఎల్కరి}
\jl{ప్రకాశ్, బుర్రి వెంకటేశ్, కాటేల సాగర్, నికాడి వెంకటేశ్,}
\jl{లాత్కరి శ్రీనివాస్, భీంకరి వెంకటేశ్, బింకరి రంగయ్య,}
\jl{లేగల గోపాల్, రాచకొండ లచ్చయ్య, ఓండ్రె సంతోష్,}
\jl{తుమ్మిడే శ్రీనివాస్, ఎల్కరి సుగుణాకర్, బుర్రి తిరుపతి,}
\jl{ఓండ్రె నారాయణ, లేగల వెంకటేశ్, గోమాసి రాజన్న, మడె}
\jl{మధునయ్య, లేగల సత్యనారాయణ,ఎల్లూరి లచ్చన్న,}
\jl{మాల్కర్ దివాకర్, బీన్కర్ తిరుపతి, తుమ్మిడె సత్తయ్య, పెద్ద}
\jl{ల నీలయ్య, గావుడె శంకర్ ఉన్నట్లు అధికారులు తెలిపారు.}
\end{txtcol}};
\node[capnode] (capTiger) at (1043,2478) {\tw{59.6mm}{పులి కళేబరాన్ని ఖననం చేస్తున్న అధికారులు (ఫైల్)}};
\node[colnode] (colNakA) at (646,2276) {\begin{txtcol}{85.6mm}{12pt}{13.8pt}
\seg{0pt}{26.8mm}{కుమ్రం భీం ఆసిఫా}
\seg{0pt}{38mm}{బాద్, మే 24 (నమస్తే}
\seg{0pt}{38mm}{తెలంగాణ) : కుమ్రం భీం ఆసి}
\seg{0pt}{42.8mm}{ఫాబాద్ జిల్లాలోకి ఆంధ్రప్రదేశ్,}
\seg{0pt}{49.2mm}{మహారాష్ట్రలోని పలు జిల్లాల నుంచి}
\seg{0pt}{51.2mm}{వివిధ మార్గాల ద్వారా ప్రతి యేటా సీజన్‌కి}
\seg{0pt}{55.4mm}{ముందు నకిలీ విత్తనాలు జిల్లాలోకి వస్తు}
\seg{0pt}{63.2mm}{న్నాయి. అడ్రస్ లేని కంపెనీల్లో తయారైన నకిలీ}
\seg{0pt}{62.6mm}{విత్తన ప్యాకెట్లపై విత్తనాలు తయారీ తేదీ గానీ, వాటి}
\seg{0pt}{61.8mm}{వ్యాలిడిటీ గానీ, తదితర వివరాలేవీ ఉండవు. గోనే}
\seg{0pt}{68.8mm}{సంచుల్లో నకిలీ విత్తనాలు గ్రామాల్లోకి చేరవేసి అమాయక}
\seg{0pt}{70.2mm}{రైతులకు అంటగడుతున్నారు. కొందరు ఒరిజినల్ ప్యాకెట్ల}
\seg{0pt}{73.8mm}{రూపంలో వీటిని విక్రయిస్తుండడంతో రైతులు కొనుగోలు చేసి}
\seg{0pt}{76.6mm}{దిగుబడి రాక నష్టపోతున్నారు. నిషేధిత పత్తి విత్తనాలు, గ్లైసిల్‌ను}
\seg{0pt}{78mm}{అరికట్టేందుకు ప్రతి సంవత్సరం అధికారులు బృందాలుగా ఏర్పడి}
\seg{0pt}{80.8mm}{అన్ని ఫర్టిలైజర్ దుకాణాలను తనిఖీ చేస్తున్నారు. పొరుగున ఉన్న}
\seg{0pt}{81.4mm}{రాష్ట్రాల నుంచి సరఫరా అయ్యే నకిలీ విత్తనాలపై నిఘా పెడుతున్నారు.}
\seg{0pt}{83.6mm}{గతంలో నకిలీ విత్తనాలు సరఫరా చేస్తూ పట్టుబడిన వారిపై కూడా దృష్టి}
\seg{0pt}{84.2mm}{సారిస్తున్నారు. అయినప్పటికీ జిల్లాలో లైసెన్స్ పొందిన డీలర్ల అండదం}
\seg{0pt}{85mm}{డలతోనే దళారులు పెద్ద మొత్తంలో నకిలీ విత్తనాలను సరఫరా}
\jr{చేస్తున్నారనే ఆరోపణలు వస్తున్నాయి.}
\end{txtcol}};
\node[capnode] (capSeeds) at (63,2609) {\tw{108mm}{తాజాగా కాగజ్‌నగర్‌లో రూ.60 లక్షల విలువైన 20 క్వింటాళ్ల విత్తనాలు పట్టివేత}};
\node[subnode] (subQuintal) at (645,2790) {\tw{50.6mm}{రెండు నెలల్లో 27 క్వింటాళ్ల పట్టివేత..}};
\node[colnode] (colNakB) at (646,2831) {\begin{txtcol}{85mm}{12pt}{13.8pt}
\jl{గత రెండు నెలల క్రితం చింతలమానేపల్లిలో రూ.10.50 లక్షల విలువైన}
\jl{3 క్వింటాళ్ల నకిలీ విత్తనాలను టాస్క్‌ఫోర్స్ అధికారులు పట్టుకున్నారు. 15}
\jl{రోజుల క్రితం రూ.12 లక్షల విలువైన 4 క్వింటాళ్ల నకిలీ పత్తి విత్తనాలు}
\jl{స్వాధీనం చేసుకున్నారు. తాజాగా శనివారం రూ.60 లక్షల విలువైన 20}
\jl{క్వింటాళ్ల బీటీ-3 నకిలీ పత్తి విత్తనాలను టాస్క్‌ఫోర్స్ అధికారులు పట్టు}
\seg{0pt}{84.4mm}{కున్నారు. ఆంధ్రప్రదేశ్ కర్నూల్ జిల్లా నుంచి కాగజ్‌నగర్‌కు 20 క్వింటాళ్ల}
\seg{0pt}{83.6mm}{బీటీ-3 నకిలీ పత్తి విత్తనాలను తరలిస్తున్న ఐచర్ వ్యాన్‌ను స్వాధీనం}
\seg{0pt}{82.2mm}{చేసుకున్నారు. వీటిని తరలిస్తున్న కాగజ్‌నగర్ పట్టణంలోని కాపువాడకు}
\seg{0pt}{81.4mm}{చెందిన కొత్తపల్లి సదాశివ్, ఆంధ్రప్రదేశ్‌లోని కర్నూల్ జిల్లా ఆధోనికి}
\seg{0pt}{80.6mm}{చెందిన పుప్పాల లక్ష్మణ్, మహారాష్ట్ర అహేరికి చెందిన సంతోష్ కిశో}
\seg{0pt}{79.2mm}{ర్‌ను అరెస్ట్ చేయగా సిరిసిల్లా జిల్లా చందుర్తి మండలం మర్రిగడ్డకు}
\seg{0pt}{77.6mm}{చెందిన వేణుగోపాల్ రెడ్డి పరారీలో ఉన్నాడని తెలిపారు. వీరిపై కేసు}
\seg{0pt}{76.2mm}{నమోదు చేసినట్లు జిల్లా ఎస్పీ డీవీ. శ్రీనివాస్ రావు విలేకరుల}
\seg{0pt}{74mm}{సమావేశంలో వివరాలను వెల్లడించారు. నకిలీ విత్తనాలను సర}
\seg{0pt}{71.8mm}{ఫరా చేసే వారిపై కఠిన చర్యలు తీసుకుంటామని, ఎవరైనా}
\jr{విక్రయిస్తే సమాచారం అందించాలని రైతులను కోరారు.}
\end{txtcol}};
\node[capnode] (capPolice) at (137,2963) {\tw{78.4mm}{పట్టుకున్న నకిలీ పత్తి విత్తనాలతో ఎస్పీ డీవీ శ్రీనివాస రావు, పోలీసులు}};
\node[colnode,font=\slantfont\bfseries] (introNakili) at (129,2998) {\begin{txtcol}{97mm}{12pt}{17pt}
\jl{నకిలీ పత్తి విత్తనాల దందా కుమ్రం భీం ఆసిఫాబాద్ జిల్లాలో జోరుగా సాగుతున్నది.}
\jl{అక్రమ సంపాదనకు అలవాటుపడిన వ్యాపారులు, దళారులు జిల్లాలోకి పెద్ద మొత్తంలో}
\jl{నకిలీ పత్తి విత్తనాలను తరలిస్తూ అమాయక రైతులకు అంటగట్టేందుకు ప్రయత్నిస్తు}
\jl{న్నారు. వ్యవసాయ, పోలీస్ శాఖల అధికారులు ఎన్ని కట్టుదిట్టమైన చర్యలు తీసుకుం}
\jl{టున్నా నకిలీ విత్తనాల దందా మాత్రం ఆగడం లేదు. గత రెండు నెలల్లో మూడు చోట్ల}
\jl{పోలీసుల తనిఖీల్లో సుమారు రూ.82 లక్షల విలువైన 27 క్వింటాళ్ల నిషేధిత పత్తి విత్త}
\seg{0pt}{68.8mm}{నాలు పట్టుబడడమే నకిలీ దందాకు నిదర్శనమని చెప్పవచ్చు.}
\end{txtcol}};
\node[headnode] (vanaHead) at (1150,2543) {\bx{114.8mm}{19.4mm}{వాన..వరద}};
\node[capnode] (vanaBulA) at (1196,2677) {\tw{103.6mm}{{\symfont ●} గుండి వాగుపై తెగిన తాత్కాలిక వంతెన {\symfont ●} వరదలో చిక్కుకపోయిన ఆటో}};
\node[capnode] (vanaBulB) at (1179,2713) {\tw{109mm}{{\symfont ●} ప్రయాణికులకు తృటిలో తప్పిన ప్రమాదం {\symfont ●} ఉప్పొంగిన గోండు కోసార వాగు}};
\node[capnode] (capVankidiA) at (1794,2727) {\tw{54mm}{వాంకిడి : గోండు కోసార వాగును పరిశీలిస్తున్న}};
\node[capnode] (capVankidiB) at (1845,2749) {\tw{33mm}{అదనపు కలెక్టర్ దీపక్ తివారీ}};
\node[colnode] (colVankA) at (1778,2788) {\begin{txtcol}{59.2mm}{12pt}{13.6pt}
\jl{చిపోవడంతో గ్రామస్తులు ఇబ్బందులు పడ్డారు.}
\jl{ఇప్పటికైనా రాష్ట్ర ప్రభుత్వం, జిల్లా అధికారులు}
\jl{స్పందించి వంతెన నిర్మాణాన్ని పూర్తి చేయాలని}
\seg{0pt}{49mm}{పరిసర గ్రామాల ప్రజలు కోరుతున్నారు.}
\end{txtcol}};
\node[subnode] (subVagu) at (1778,2887) {\tw{47.2mm}{ఉప్పొంగిన గోండు కోసార వాగు..}};
\node[colnode] (colVankB) at (1778,2934) {\begin{txtcol}{59.2mm}{12pt}{13.7pt}
\jl{వాంకిడి, మే 24 : వాంకిడి మండలంలో శుక్ర}
\jl{వారం రాత్రి కురిసిన భారీ వర్షాలకు గోండు}
\jl{కోసార వాగు ఉధృతంగా ప్రవహించింది. శని}
\jl{వారం కుమ్రం భీం ఆసిఫాబాద్ అదనపు కలెక్టర్}
\jl{దీపక్ తివారీ అధికారులతో కలిసి గోండు కోసార}
\jl{వాగును పరిశీలించారు. గోండు కోసార గ్రామస్తు}
\jl{లతో మాట్లాడి సమస్యలు తెలుసుకున్నారు. భారీ}
\jl{వర్షాలు కురుస్తున్న వాగుల వద్ద ప్రజలు అప్రమ}
\jl{త్తంగా ఉండాలని సూచించారు. ఆయన వెంట}
\jl{డీఎల్పీవో ఉమర్, తహసీల్దార్ రియాజ్ అలీ,}
\jl{డాక్టర్ వినయ్, పంచాయతీ కార్యదర్శి, గ్రామ}
\seg{0pt}{33.2mm}{స్తులు తదితరులు ఉన్నారు.}
\end{txtcol}};
\node[capnode] (capAsifabad) at (1153,3044) {\tw{118.2mm}{ఆసిఫాబాద్ మండలంలో గుండి వాగుపై తెగిన తాత్కాలిక వంతెన, ప్రవాహంలో కొట్టుకపోయిన ఆటో}};
\node[colnode] (colAsifA) at (1153,3076) {\begin{txtcol}{57.8mm}{12pt}{13.8pt}
\jl{ఆసిఫాబాద్ టౌన్, మే 24 : రెండు రోజులుగా}
\jl{కురుస్తున్న వర్షాలకు కుమ్రం భీం ఆసిఫాబాద్}
\jl{జిల్లాలో వాగులు ఉధృతంగా ప్రవహిస్తున్నాయి.}
\jl{శుక్రవారం రాత్రి గుండి వాగుపై ఏర్పాటు చేసిన}
\jl{తాత్కాలిక వంతెన వరదకు కొట్టుకపోయింది. అదే}
\jl{సమయంలో వంతెనపై నుంచి వెళ్తున్న ఆటో ఒక్క}
\end{txtcol}};
\node[colnode] (colAsifB) at (1467,3076) {\begin{txtcol}{58.4mm}{12pt}{13.8pt}
\jl{సారిగా వరదలో చిక్కుకపోయింది. అందులో}
\jl{ఉన్న ముగ్గురు ప్రయాణికులు, డ్రైవర్ అప్రమత్తమై}
\jl{బయటకువచ్చారు. వరదలో ఆటో కొంత దూరం}
\jl{కొట్టుకపోయింది. స్థానికుల సహాయంతో ఆటోను}
\jl{బయటికి తీశారు. దీంతో శనివారం నుంచి జిల్లా}
\jl{కేంద్రం నుంచి గుండి గ్రామానికి రాకపోకలు నిలి}
\end{txtcol}};
\end{tikzpicture}
\end{document}
